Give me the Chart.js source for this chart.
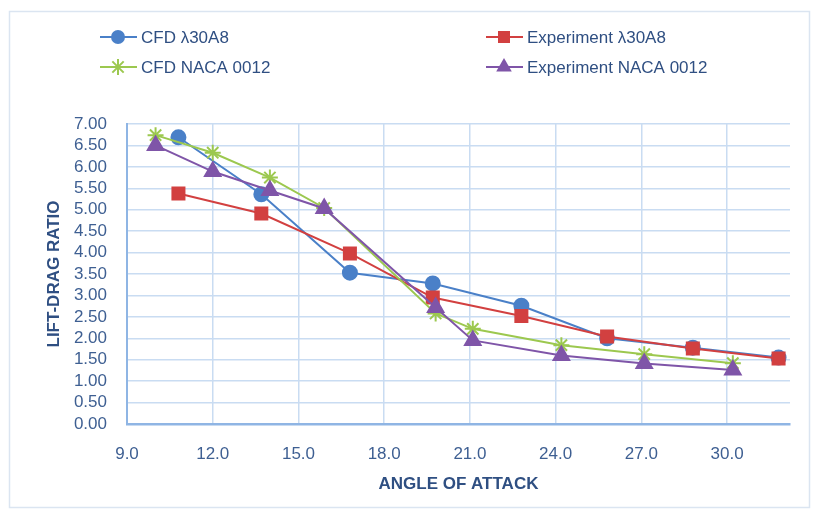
<!DOCTYPE html>
<html>
<head>
<meta charset="utf-8">
<script src="https://cdn.jsdelivr.net/npm/chart.js@4/dist/chart.umd.min.js"></script>
<style>
  html, body { margin: 0; padding: 0; background: #fff; }
  #wrap { position: relative; width: 819px; height: 518px; }
</style>
</head>
<body>
<div id="wrap"><canvas id="liftDrag" width="819" height="518"></canvas></div>
<script>
// Data
const cfdLambdaX = [10.8, 13.7, 16.8, 19.7, 22.8, 25.8, 28.8, 31.8];
const cfdLambdaY = [6.69, 5.36, 3.53, 3.28, 2.76, 2.00, 1.78, 1.55];

const expLambdaX = [10.8, 13.7, 16.8, 19.7, 22.8, 25.8, 28.8, 31.8];
const expLambdaY = [5.38, 4.91, 3.98, 2.95, 2.52, 2.04, 1.76, 1.53];

const cfdNacaX = [10.0, 12.0, 14.0, 15.9, 19.8, 21.1, 24.2, 27.1, 30.2];
const cfdNacaY = [6.74, 6.33, 5.75, 5.04, 2.58, 2.22, 1.84, 1.63, 1.42];

const expNacaX = [10.0, 12.0, 14.0, 15.9, 19.8, 21.1, 24.2, 27.1, 30.2];
const expNacaY = [6.50, 5.89, 5.45, 5.03, 2.72, 1.95, 1.60, 1.41, 1.26];

const seriesLabels = ['CFD \u03BB30A8', 'Experiment \u03BB30A8', 'CFD NACA 0012', 'Experiment NACA 0012'];

const xTitle = 'ANGLE OF ATTACK';
const yTitle = 'LIFT-DRAG RATIO';

const textColor = '#2f4f82';
const tickColor = '#3e5f92';
const fontFamily = '"Liberation Sans", Arial, sans-serif';

function pts(xs, ys) {
    return xs.map((x, i) => ({ x: x, y: ys[i] }));
}

// legend drawn by hand so it can sit in two fixed columns like the original
const legendPos = [
    { x: 100, y: 37 },
    { x: 486, y: 37 },
    { x: 100, y: 67 },
    { x: 486, y: 67 },
];

function drawMarker(ctx, style, x, y, r, color) {
    ctx.save();
    ctx.fillStyle = color;
    ctx.strokeStyle = color;
    ctx.lineWidth = 2;
    ctx.beginPath();
    if (style === 'circle') {
        ctx.arc(x, y, r, 0, Math.PI * 2);
        ctx.fill();
    } else if (style === 'rect') {
        const s = r * Math.SQRT1_2;
        ctx.rect(x - s, y - s, 2 * s, 2 * s);
        ctx.fill();
    } else if (style === 'triangle') {
        ctx.moveTo(x, y - r);
        ctx.lineTo(x + r * 0.866, y + r * 0.5);
        ctx.lineTo(x - r * 0.866, y + r * 0.5);
        ctx.closePath();
        ctx.fill();
    } else if (style === 'star') {
        for (let k = 0; k < 4; k++) {
            const a = k * Math.PI / 4;
            ctx.moveTo(x - Math.cos(a) * r, y - Math.sin(a) * r);
            ctx.lineTo(x + Math.cos(a) * r, y + Math.sin(a) * r);
        }
        ctx.stroke();
    }
    ctx.restore();
}

const frameAndLegend = {
    id: 'frameAndLegend',
    beforeDraw(chart) {
        const ctx = chart.ctx;
        ctx.save();
        ctx.strokeStyle = '#dbe5f1';
        ctx.lineWidth = 1.5;
        ctx.strokeRect(9.5, 11.5, 800, 496);
        ctx.restore();
    },
    afterDraw(chart) {
        const ctx = chart.ctx;
        chart.data.datasets.forEach((ds, i) => {
            const p = legendPos[i];
            ctx.save();
            ctx.strokeStyle = ds.borderColor;
            ctx.lineWidth = 2;
            ctx.beginPath();
            ctx.moveTo(p.x, p.y);
            ctx.lineTo(p.x + 37, p.y);
            ctx.stroke();
            ctx.restore();
            drawMarker(ctx, ds.pointStyle, p.x + 18, p.y, ds.pointRadius, ds.borderColor);
            ctx.save();
            ctx.fillStyle = textColor;
            ctx.font = '17px ' + fontFamily;
            ctx.textBaseline = 'middle';
            ctx.fillText(ds.label, p.x + 41, p.y + 1);
            ctx.restore();
        });
    }
};

const ctx = document.getElementById('liftDrag').getContext('2d');
const chart = new Chart(ctx, {
    type: 'line',
    data: {
        datasets: [
            {
                label: seriesLabels[0],
                data: pts(cfdLambdaX, cfdLambdaY),
                borderColor: '#4a80c8',
                backgroundColor: '#4a80c8',
                pointStyle: 'circle',
                pointRadius: 7,
                borderWidth: 2,
                order: 4,
            },
            {
                label: seriesLabels[1],
                data: pts(expLambdaX, expLambdaY),
                borderColor: '#d24040',
                backgroundColor: '#d24040',
                pointStyle: 'rect',
                pointRadius: 8.5,
                borderWidth: 2,
                order: 3,
            },
            {
                label: seriesLabels[2],
                data: pts(cfdNacaX, cfdNacaY),
                borderColor: '#9cc84f',
                backgroundColor: '#9cc84f',
                pointStyle: 'star',
                pointRadius: 8,
                borderWidth: 2,
                order: 2,
            },
            {
                label: seriesLabels[3],
                data: pts(expNacaX, expNacaY),
                borderColor: '#7f55a8',
                backgroundColor: '#7f55a8',
                pointStyle: 'triangle',
                pointRadius: 9,
                borderWidth: 2,
                order: 1,
            },
        ],
    },
    options: {
        responsive: false,
        animation: false,
        layout: {
            padding: { top: 124, right: 29, bottom: 23, left: 40 },
        },
        plugins: {
            legend: { display: false },
            tooltip: { enabled: false },
        },
        scales: {
            x: {
                type: 'linear',
                min: 9,
                max: 32.2,
                afterFit: (scale) => { scale.height = 71; },
                ticks: {
                    stepSize: 3,
                    includeBounds: false,
                    color: tickColor,
                    padding: 20,
                    font: { size: 17, family: fontFamily },
                    callback: (v) => v.toFixed(1),
                },
                grid: { color: '#c9dcf2', lineWidth: 1.5, drawTicks: false },
                border: { color: '#8fb5e4', width: 2.5 },
                title: {
                    display: true,
                    text: xTitle,
                    color: textColor,
                    padding: { top: 0, bottom: 0 },
                    font: { size: 17, weight: 'bold', family: fontFamily },
                },
            },
            y: {
                min: 0,
                max: 7,
                afterFit: (scale) => { scale.width = 87; },
                ticks: {
                    stepSize: 0.5,
                    autoSkip: false,
                    color: tickColor,
                    padding: 20,
                    font: { size: 17, family: fontFamily },
                    callback: (v) => v.toFixed(2),
                },
                grid: { color: '#c9dcf2', lineWidth: 1.5, drawTicks: false },
                border: { color: '#8fb5e4', width: 2 },
                title: {
                    display: true,
                    text: yTitle,
                    color: textColor,
                    padding: { top: 4, bottom: 0 },
                    font: { size: 17, weight: 'bold', family: fontFamily },
                },
            },
        },
    },
    plugins: [frameAndLegend],
});
</script>
</body>
</html>
